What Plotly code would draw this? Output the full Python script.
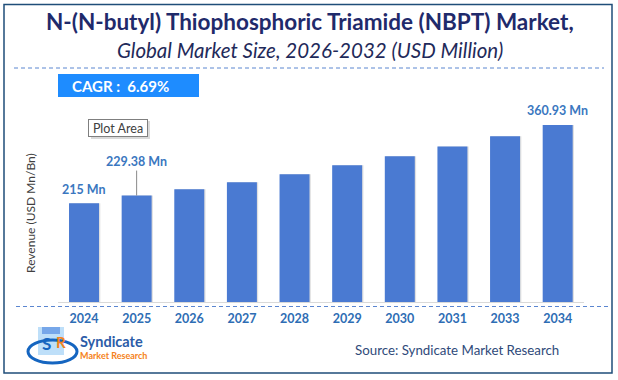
import plotly.graph_objects as go

W, H = 618, 380

years = ["2024", "2025", "2026", "2027", "2028", "2029", "2030", "2031", "2033", "2034"]
revenue = [215, 229.38, 241, 254, 269, 286, 302.6, 321, 340, 360.93]
labeled = {"2024": "215 Mn", "2025": "229.38 Mn", "2034": "360.93 Mn"}

title_text = "N-(N-butyl) Thiophosphoric Triamide (NBPT) Market,"
subtitle_text = "Global Market Size, 2026-2032 (USD Million)"
cagr_text = "CAGR :  6.69%"
source_text = "Source: Syndicate Market Research"
y_title = "Revenue (USD Mn/Bn)"

FONT = "Lato"
BAR = "#4A7AD2"
LBL = "#3A77C0"


def px(x):
    return x / W


def py(y):
    return 1 - y / H


def ann(x, y, text, size, color, **kw):
    d = dict(x=px(x), y=py(y), xref="paper", yref="paper", text=text, showarrow=False,
             xanchor="center", yanchor="middle", font=dict(family=FONT, size=size, color=color))
    d.update(kw)
    return d


fig = go.Figure()

# shadow
fig.add_trace(go.Bar(x=years, y=revenue, width=0.58, offset=-0.27,
                     marker=dict(color="rgba(0,0,0,0.12)", line=dict(width=0)),
                     hoverinfo="skip", showlegend=False))
fig.add_trace(go.Bar(x=years, y=revenue, width=0.57, offset=-0.285,
                     marker=dict(color=BAR, line=dict(width=0)),
                     showlegend=False))

annotations = []
for i, (yr, v) in enumerate(zip(years, revenue)):
    if yr in labeled:
        if yr == "2025":
            annotations.append(dict(x=i, y=v, xref="x", yref="y", text="<b>%s</b>" % labeled[yr],
                                    showarrow=True, arrowhead=0, arrowwidth=1, arrowcolor="#8a8a8a",
                                    ax=0, ay=-34, xanchor="center", yanchor="middle",
                                    font=dict(family=FONT, size=12.5, color=LBL)))
        else:
            annotations.append(dict(x=i, y=v, xref="x", yref="y", text="<b>%s</b>" % labeled[yr],
                                    showarrow=False, yshift=14, xanchor="center", yanchor="middle",
                                    font=dict(family=FONT, size=12.5, color=LBL)))

annotations += [
    ann(310, 22, "<b>%s</b>" % title_text, 22.5, "#1F2A6B"),
    ann(310, 50, "<i>%s</i>" % subtitle_text, 20.5, "#1F2A5A"),
    ann(120, 86, "<b>%s</b>" % cagr_text, 15, "white"),
    ann(117.5, 127.5, "Plot Area", 12.5, "#404040", bgcolor="white", bordercolor="#7f7f7f",
        borderwidth=1, borderpad=0, width=58, height=16),
    ann(30, 213, y_title, 12, "#404040", textangle=-90),
    ann(457, 350, source_text, 13.3, "#2F4A7A"),
    ann(78, 341, "<b>Syndicate</b>", 14.5, "#2B5CA8", xanchor="left"),
    ann(78, 355, "<b>Market Research</b>", 9, "#F58220", xanchor="left"),
    ann(46, 343, "<b>S</b>", 17, "#1565C0"),
    ann(61, 342, "<b>R</b>", 15, "#F58220"),
]

shapes = [
    # outer border
    dict(type="rect", xref="paper", yref="paper", x0=px(4), x1=px(612), y0=py(4.5), y1=py(373),
         line=dict(color="#1F4E79", width=1.5)),
    # dashed separators
    dict(type="line", xref="paper", yref="paper", x0=px(14), x1=px(604), y0=py(68), y1=py(68),
         line=dict(color="#5B86D0", width=1, dash="4px,3px")),
    dict(type="line", xref="paper", yref="paper", x0=px(16), x1=px(608), y0=py(306.5), y1=py(306.5),
         line=dict(color="#5B86D0", width=1, dash="4px,3px")),
    # CAGR box
    dict(type="rect", xref="paper", yref="paper", x0=px(58), x1=px(199), y0=py(74), y1=py(97),
         fillcolor="#1E8CFF", line=dict(width=0), layer="below"),
    # plot area label shadow
    dict(type="rect", xref="paper", yref="paper", x0=px(91), x1=px(150), y0=py(121), y1=py(139),
         fillcolor="#dadada", line=dict(width=0), layer="below"),
    # logo swoosh and cube
    dict(type="rect", xref="paper", yref="paper", x0=px(38), x1=px(64), y0=py(327), y1=py(355),
         fillcolor="rgba(40,150,235,0.30)", line=dict(width=0), layer="below"),
    dict(type="rect", xref="paper", yref="paper", x0=px(42), x1=px(60), y0=py(327), y1=py(334),
         fillcolor="rgba(60,120,220,0.55)", line=dict(width=0), layer="below"),
    dict(type="circle", xref="paper", yref="paper", x0=px(28), x1=px(77), y0=py(340), y1=py(363),
         line=dict(color="#1565C0", width=3)),
]

fig.update_layout(
    width=W, height=H,
    margin=dict(l=0, r=0, t=0, b=0),
    paper_bgcolor="white", plot_bgcolor="white",
    barmode="overlay",
    showlegend=False,
    xaxis=dict(domain=[px(57.7), px(584)], type="category", range=[-0.5, 9.5],
               showgrid=False, showline=True, linecolor="#D9D9D9", linewidth=1,
               ticks="", ticklabelstandoff=5,
               tickfont=dict(family=FONT, size=12.5, color="#2E6DB4"),
               tickprefix="<b>", ticksuffix="</b>"),
    yaxis=dict(domain=[py(302), py(100)], range=[31, 407.5], visible=False),
    annotations=annotations,
    shapes=shapes,
)

fig.write_html("out.html", config={"displayModeBar": False},
               post_script="document.body.style.margin='0';document.body.style.overflow='hidden';")
